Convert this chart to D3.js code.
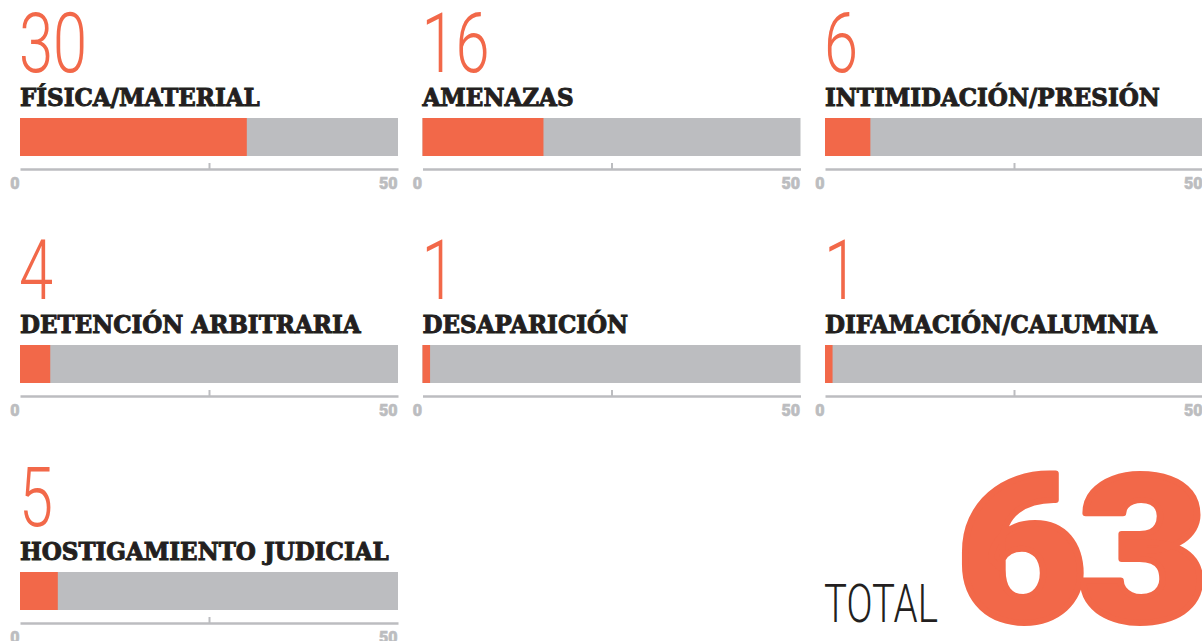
<!DOCTYPE html>
<html>
<head>
<meta charset="utf-8">
<script src="https://cdn.jsdelivr.net/npm/d3@7"></script>
<style>
  body { margin: 0; background: #fff; }
  svg { display: block; }
</style>
</head>
<body>
<script>
// datos
const categories = ["FÍSICA/MATERIAL", "AMENAZAS", "INTIMIDACIÓN/PRESIÓN",
                    "DETENCIÓN ARBITRARIA", "DESAPARICIÓN", "DIFAMACIÓN/CALUMNIA",
                    "HOSTIGAMIENTO JUDICIAL"];
const values = [30, 16, 6, 4, 1, 1, 5];
const tickValues = [0, 25, 50];
const tickLabels = ["0", "", "50"];
const totalLabel = "TOTAL";
const total = 63;

const width = 1202,
      height = 641,
      orange = "#f26849",
      grey = "#bcbdc0",
      ink = "#231f20",
      barW = 378,   // ancho de barra
      barH = 38,    // alto de barra
      colStep = 402.5,
      rowStep = 227;

const svg = d3.select("body").append("svg")
  .attr("width", width)
  .attr("height", height);

const x = d3.scaleLinear().domain([0, 50]).range([0, barW]);

categories.forEach((cat, i) => {
  const col = i % 3, row = Math.floor(i / 3);
  const g = svg.append("g")
    .attr("transform", `translate(${20 + col * colStep},${row * rowStep})`);

  // número grande
  g.append("text")
    .attr("transform", "translate(-1,72) scale(0.74,1)")
    .attr("font-family", "Roboto")
    .attr("font-weight", 300)
    .attr("font-size", 83)
    .attr("fill", orange)
    .text(values[i]);

  // título
  g.append("text")
    .attr("transform", "translate(0,106) scale(0.94,1)")
    .attr("font-family", "DejaVu Serif")
    .attr("font-weight", "bold")
    .attr("font-size", 24.5)
    .attr("fill", ink)
    .attr("stroke", ink)
    .attr("stroke-width", 1)
    .text(cat);

  // fondo gris + valor
  g.append("rect")
    .attr("x", 0).attr("y", 118)
    .attr("width", x(50)).attr("height", barH)
    .attr("fill", grey);
  g.append("rect")
    .attr("x", 0).attr("y", 118)
    .attr("width", x(values[i])).attr("height", barH)
    .attr("fill", orange);

  // eje
  const ax = g.append("g")
    .attr("transform", "translate(0,169)")
    .call(d3.axisBottom(x)
      .tickValues(tickValues)
      .tickSizeInner(-6)
      .tickSizeOuter(0)
      .tickPadding(9)
      .tickFormat((d, j) => tickLabels[j]));
  ax.select(".domain").attr("stroke", grey).attr("stroke-width", 2.5);
  ax.selectAll(".tick line")
    .attr("stroke", grey).attr("stroke-width", 2)
    .attr("opacity", d => (d === 0 || d === 50) ? 0 : 1);
  ax.selectAll(".tick text")
    .attr("text-anchor", "end")
    .attr("dx", -1)
    .attr("font-family", "Roboto")
    .attr("font-weight", 900)
    .attr("font-size", 16)
    .attr("fill", grey)
    .attr("stroke", grey)
    .attr("stroke-width", 0.6);
});

// total
svg.append("text")
  .attr("transform", "translate(824,622) scale(0.72,1)")
  .attr("font-family", "Roboto")
  .attr("font-weight", 300)
  .attr("font-size", 53.5)
  .attr("fill", ink)
  .text(totalLabel);

svg.append("text")
  .attr("transform", "translate(956,621) scale(1.1,1)")
  .attr("font-family", "Roboto")
  .attr("font-weight", 900)
  .attr("font-size", 205)
  .attr("letter-spacing", -8)
  .attr("fill", orange)
  .attr("stroke", orange)
  .attr("stroke-width", 6)
  .attr("stroke-linejoin", "round")
  .text(total);
</script>
</body>
</html>
